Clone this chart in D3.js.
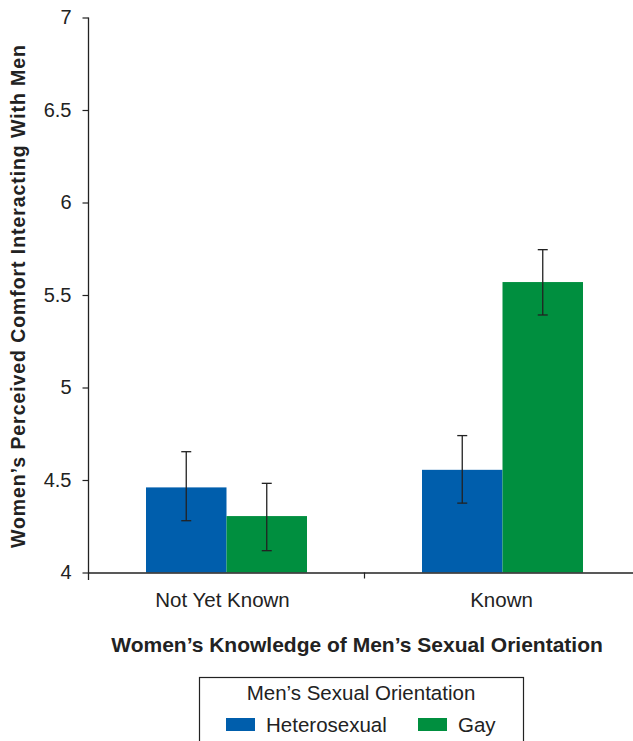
<!DOCTYPE html>
<html>
<head>
<meta charset="utf-8">
<script src="https://d3js.org/d3.v7.min.js"></script>
<style>
  body { margin: 0; background: white; font-family: "Liberation Sans", Arial, sans-serif; }
  svg { display: block; }
</style>
</head>
<body>
<script>
  // data
  const categories = ['Not Yet Known', 'Known'];
  const orientations = ['Heterosexual', 'Gay'];
  const heteroMeans = [4.46, 4.555];
  const gayMeans = [4.305, 5.57];
  const heteroErrLow = [4.28, 4.375];
  const heteroErrHigh = [4.653, 4.74];
  const gayErrLow = [4.118, 5.392];
  const gayErrHigh = [4.482, 5.745];
  const yTicks = [4, 4.5, 5, 5.5, 6, 6.5, 7];

  const colors = { Heterosexual: '#005eac', Gay: '#008f3f' };

  const width = 633, height = 741;
  const font = '"Liberation Sans", Arial, sans-serif';

  const rows = [];
  categories.forEach((c, i) => {
    rows.push({ cat: c, grp: 'Heterosexual', v: heteroMeans[i], lo: heteroErrLow[i], hi: heteroErrHigh[i] });
    rows.push({ cat: c, grp: 'Gay', v: gayMeans[i], lo: gayErrLow[i], hi: gayErrHigh[i] });
  });

  const svg = d3.select('body').append('svg')
    .attr('width', width)
    .attr('height', height);

  const x0 = d3.scaleBand().domain(categories).range([88.5, 640.5]);
  const x1 = d3.scaleBand().domain(orientations).range([0, 161]);
  const y = d3.scaleLinear().domain([4, 7]).range([572.5, 17.5]);

  const barX = d => x0(d.cat) + (x0.bandwidth() - 161) / 2 + x1(d.grp);

  // bars
  svg.selectAll('rect.bar')
    .data(rows)
    .enter()
    .append('rect')
    .attr('class', 'bar')
    .attr('x', barX)
    .attr('y', d => y(d.v))
    .attr('width', x1.bandwidth())
    .attr('height', d => y(4) - y(d.v))
    .attr('fill', d => colors[d.grp]);

  // error bars
  const cx = d => barX(d) + x1.bandwidth() / 2;
  const err = svg.append('g').attr('stroke', '#222').attr('stroke-width', 1.3);
  rows.forEach(d => {
    err.append('line').attr('x1', cx(d)).attr('x2', cx(d)).attr('y1', y(d.lo)).attr('y2', y(d.hi));
    err.append('line').attr('x1', cx(d) - 5).attr('x2', cx(d) + 5).attr('y1', y(d.lo)).attr('y2', y(d.lo));
    err.append('line').attr('x1', cx(d) - 5).attr('x2', cx(d) + 5).attr('y1', y(d.hi)).attr('y2', y(d.hi));
  });

  // y axis
  const yAxis = svg.append('g')
    .attr('transform', 'translate(88.5,0)')
    .call(d3.axisLeft(y).tickValues(yTicks).tickFormat(d3.format('')).tickSizeOuter(0).tickSize(6).tickPadding(11));
  yAxis.select('.domain').remove();
  yAxis.append('line').attr('x1', 0).attr('x2', 0).attr('y1', y(7)).attr('y2', 580).attr('stroke', '#222').attr('stroke-width', 1.3);
  yAxis.selectAll('.tick line').attr('stroke', '#222').attr('stroke-width', 1.2);
  yAxis.selectAll('.tick text')
    .attr('fill', '#222')
    .style('font-size', '20px')
    .style('font-family', font);

  // x axis
  const xAxis = svg.append('g')
    .attr('transform', 'translate(0,572.5)')
    .call(d3.axisBottom(x0).tickSize(0).tickPadding(20));
  xAxis.select('.domain').attr('stroke', '#222').attr('stroke-width', 1.3);
  xAxis.selectAll('.tick text')
    .attr('fill', '#222')
    .attr('dx', (d, i) => i === 0 ? -4 : -1)
    .style('font-size', '20.5px')
    .style('font-family', font);
  // separator tick between categories
  xAxis.append('line')
    .attr('x1', x0('Known')).attr('x2', x0('Known'))
    .attr('y1', 0).attr('y2', 6)
    .attr('stroke', '#222').attr('stroke-width', 1.2);

  // axis titles
  svg.append('text')
    .attr('transform', 'translate(25,296.5) rotate(-90)')
    .attr('text-anchor', 'middle')
    .attr('fill', '#222')
    .attr('textLength', 503)
    .attr('lengthAdjust', 'spacing')
    .style('font-size', '19.5px')
    .style('font-weight', 'bold')
    .text('Women’s Perceived Comfort Interacting With Men');

  svg.append('text')
    .attr('x', 357)
    .attr('y', 651.5)
    .attr('text-anchor', 'middle')
    .attr('fill', '#222')
    .style('font-size', '21px')
    .style('font-weight', 'bold')
    .text('Women’s Knowledge of Men’s Sexual Orientation');

  // legend
  const legend = svg.append('g');
  legend.append('rect')
    .attr('x', 199.5).attr('y', 677.5)
    .attr('width', 324).attr('height', 80)
    .attr('fill', 'none').attr('stroke', '#222').attr('stroke-width', 1.2);
  legend.append('text')
    .attr('x', 361).attr('y', 700)
    .attr('text-anchor', 'middle')
    .attr('fill', '#222')
    .style('font-size', '20.5px')
    .text('Men’s Sexual Orientation');

  const legendX = { Heterosexual: 226, Gay: 418 };
  orientations.forEach(o => {
    legend.append('rect')
      .attr('x', legendX[o]).attr('y', 718)
      .attr('width', 29).attr('height', 13)
      .attr('fill', colors[o]);
    legend.append('text')
      .attr('x', legendX[o] + 40).attr('y', 731.5)
      .attr('fill', '#222')
      .style('font-size', '20.5px')
      .text(o);
  });
</script>
</body>
</html>
